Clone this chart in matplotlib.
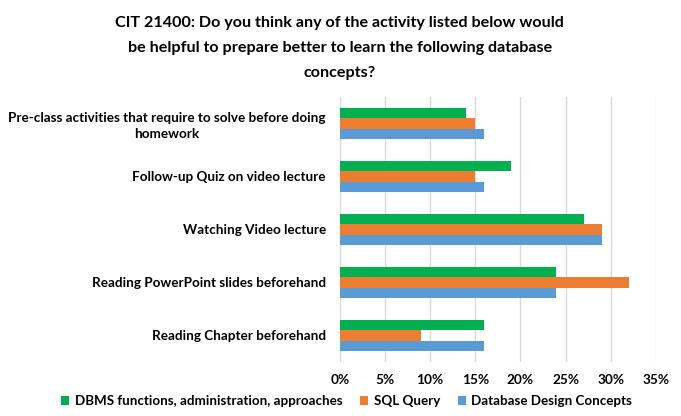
import matplotlib
matplotlib.use("Agg")
import matplotlib.pyplot as plt
import numpy as np

categories = [
    "Pre-class activities that require to solve before doing\nhomework",
    "Follow-up Quiz on video lecture",
    "Watching Video lecture",
    "Reading PowerPoint slides beforehand",
    "Reading Chapter beforehand",
]
dbms = [14, 19, 27, 24, 16]
sql = [15, 15, 29, 32, 9]
design = [16, 16, 29, 24, 16]
series_names = ["DBMS functions, administration, approaches", "SQL Query", "Database Design Concepts"]
xticks = [0, 5, 10, 15, 20, 25, 30, 35]

plt.rcParams['font.family'] = ['Lato', 'DejaVu Sans']

fig = plt.figure(figsize=(6.81, 4.16), dpi=100)
ax = fig.add_axes([0.499, 0.130, 0.464, 0.637])

y = np.arange(len(categories))
h = 0.2
colors = ["#00b050", "#ed7d31", "#5b9bd5"]
for i, (vals, name) in enumerate(zip([dbms, sql, design], series_names)):
    ax.barh(y + (i - 1) * h, vals, height=h, color=colors[i], label=name)

ax.set_ylim(len(categories) - 0.5, -0.5)
ax.set_xlim(0, 35)
ax.set_xticks(xticks)
ax.set_xticklabels([f"{t}%" for t in xticks], fontsize=9.8, fontweight="bold")
ax.set_yticks(y)
ax.set_yticklabels(categories, fontsize=9.7, fontweight="bold", multialignment="center",
                   linespacing=1.35)
ax.tick_params(length=0, pad=10)
ax.tick_params(axis="x", pad=9)
ax.grid(axis="x", color="#d9d9d9", linewidth=1)
ax.set_axisbelow(True)
for s in ax.spines.values():
    s.set_visible(False)

fig.text(0.499, 0.962, "CIT 21400: Do you think any of the activity listed below would\n"
         "be helpful to prepare better to learn the following database\nconcepts?",
         ha="center", va="top", fontsize=11.6, fontweight="bold", linespacing=2.0)

fig.legend(loc="lower center", bbox_to_anchor=(0.509, -0.008), ncol=3, frameon=False,
           prop={"weight": "bold", "size": 9.6}, handlelength=0.6, handleheight=0.6,
           columnspacing=1.35, handletextpad=0.4)

fig.savefig("out.png", dpi=100)
